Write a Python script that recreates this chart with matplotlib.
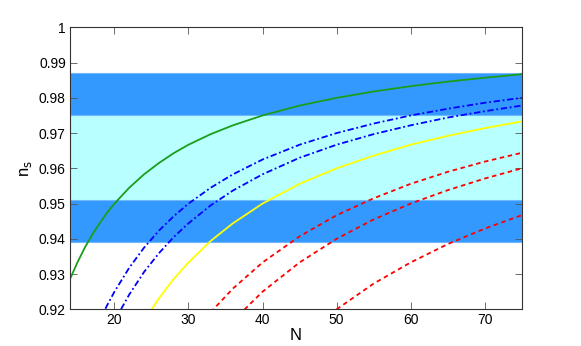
import matplotlib
matplotlib.use("Agg")
import matplotlib.pyplot as plt
from matplotlib.ticker import FormatStrFormatter

plt.rcParams['font.family'] = ['Liberation Sans Narrow', 'Liberation Sans', 'DejaVu Sans']

# observational bands for n_s (2 sigma outer, 1 sigma inner)
band_2sigma = (0.939, 0.987)
band_1sigma = (0.951, 0.975)

# green solid
n_green = [14, 15, 16, 17, 18, 19, 20, 22, 24, 26, 28, 30, 33, 36, 40, 45, 50, 55, 60, 65, 70, 75]
ns_green = [0.9286, 0.9333, 0.9375, 0.9412, 0.9444, 0.9474, 0.95, 0.9545, 0.9583, 0.9615, 0.9643,
            0.9667, 0.9697, 0.9722, 0.975, 0.9778, 0.98, 0.9818, 0.9833, 0.9846, 0.9857, 0.9867]

# blue dash-dot (two curves)
n_blue1 = [18, 19, 20, 22, 24, 26, 28, 30, 33, 36, 40, 45, 50, 55, 60, 65, 70, 75]
ns_blue1 = [0.9167, 0.9211, 0.925, 0.9318, 0.9375, 0.9423, 0.9464, 0.95, 0.9545, 0.9583,
            0.9625, 0.9667, 0.97, 0.9727, 0.975, 0.9769, 0.9786, 0.98]
n_blue2 = [20, 22, 24, 26, 28, 30, 33, 36, 40, 45, 50, 55, 60, 65, 70, 75]
ns_blue2 = [0.9167, 0.9242, 0.9306, 0.9359, 0.9405, 0.9444, 0.9495, 0.9537, 0.9583, 0.963,
            0.9667, 0.9697, 0.9722, 0.9744, 0.9762, 0.9778]

# yellow solid
n_yellow = [24, 26, 28, 30, 33, 36, 40, 45, 50, 55, 60, 65, 70, 75]
ns_yellow = [0.9167, 0.9231, 0.9286, 0.9333, 0.9394, 0.9444, 0.95, 0.9556, 0.96, 0.9636,
             0.9667, 0.9692, 0.9714, 0.9733]

# red dashed (three curves)
n_red1 = [33, 36, 40, 45, 50, 55, 60, 65, 70, 75]
ns_red1 = [0.9192, 0.9259, 0.9333, 0.9407, 0.9467, 0.9515, 0.9556, 0.959, 0.9619, 0.9644]
n_red2 = [36, 40, 45, 50, 55, 60, 65, 70, 75]
ns_red2 = [0.9167, 0.925, 0.9333, 0.94, 0.9455, 0.95, 0.9538, 0.9571, 0.96]
n_red3 = [50, 55, 60, 65, 70, 75]
ns_red3 = [0.92, 0.9273, 0.9333, 0.9385, 0.9429, 0.9467]

fig = plt.figure(figsize=(5.81, 3.46), dpi=100)
ax = fig.add_axes([0.1205, 0.106, 0.7775, 0.815])

# bands
ax.axhspan(*band_2sigma, facecolor='#3399ff', edgecolor='#70b8ff', lw=0.8, zorder=0)
ax.axhspan(*band_1sigma, facecolor='#b8ffff', edgecolor='#70b8ff', lw=0.8, zorder=0.5)

lw = 1.3
ax.plot(n_green, ns_green, color='#1a9e1a', lw=lw)
ax.plot(n_blue1, ns_blue1, color='#0000ff', lw=lw, ls=(0, (3.5, 1.5, 1, 1.5)))
ax.plot(n_blue2, ns_blue2, color='#0000ff', lw=lw, ls=(0, (3.5, 1.5, 1, 1.5)))
ax.plot(n_yellow, ns_yellow, color='#ffff00', lw=lw)
ax.plot(n_red1, ns_red1, color='#ff0000', lw=lw, ls=(0, (2.5, 2)))
ax.plot(n_red2, ns_red2, color='#ff0000', lw=lw, ls=(0, (2.5, 2)))
ax.plot(n_red3, ns_red3, color='#ff0000', lw=lw, ls=(0, (2.5, 2)))

ax.set_xlim(14, 75)
ax.set_ylim(0.92, 1.0)
ax.set_xticks([20, 30, 40, 50, 60, 70])
ax.set_yticks([0.92, 0.93, 0.94, 0.95, 0.96, 0.97, 0.98, 0.99, 1.0])
ax.yaxis.set_major_formatter(FormatStrFormatter('%g'))
ax.tick_params(direction='in', top=True, right=True, labelsize=10, length=5, width=0.6,
               color='#555555', pad=3)
for s in ax.spines.values():
    s.set_linewidth(0.8)
    s.set_color('#333333')

ax.set_xlabel('N', fontsize=12)
ax.set_ylabel(r'n$_\mathrm{s}$', fontsize=12)
ax.xaxis.set_label_coords(0.5, -0.066)
ax.yaxis.set_label_coords(-0.08, 0.5)

fig.savefig('out.png', dpi=100)
